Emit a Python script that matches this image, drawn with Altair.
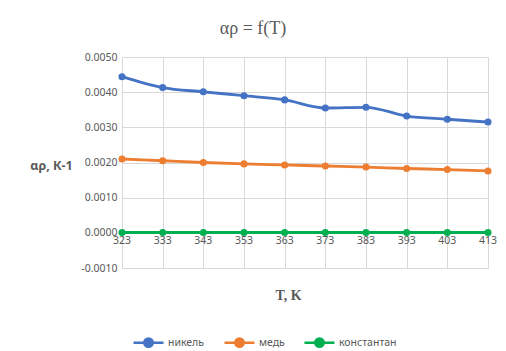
import altair as alt
import pandas as pd

temps = [323, 333, 343, 353, 363, 373, 383, 393, 403, 413]
nickel = [0.00444, 0.00413, 0.00401, 0.00390, 0.00378, 0.00355, 0.00357, 0.00332, 0.00323, 0.00315]
copper = [0.00210, 0.00205, 0.00200, 0.00196, 0.00193, 0.00190, 0.00187, 0.00183, 0.00180, 0.00176]
constantan = [0.00001, 0.00001, 0.00001, 0.00001, 0.00001, 0.00001, 0.00001, 0.00001, 0.00001, 0.00001]
series_names = ["никель", "медь", "константан"]
series_colors = ["#4472C4", "#ED7D31", "#00B050"]
y_ticks = [-0.001, 0.0, 0.001, 0.002, 0.003, 0.004, 0.005]

rows = []
for name, vals in zip(series_names, [nickel, copper, constantan]):
    for t, v in zip(temps, vals):
        rows.append({"T": t, "v": v, "s": name})
df = pd.DataFrame(rows)
ticks_df = pd.DataFrame({"T": temps, "zero": [0.0] * len(temps), "lab": [str(t) for t in temps]})

GRID = "#D9D9D9"
LAB = "#595959"

xs = alt.Scale(domain=[323, 413], nice=False, zero=False)
ys = alt.Scale(domain=[-0.001, 0.005], nice=False)
color = alt.Color(
    "s:N",
    sort=series_names,
    scale=alt.Scale(domain=series_names, range=series_colors),
    legend=alt.Legend(
        title=None, orient="none", direction="horizontal",
        legendX=10, legendY=269,
        symbolType="M-1,0H-0.28A0.28,0.28,0,1,1,0.28,0H1M0.28,0A0.28,0.28,0,1,1,-0.28,0Z",
        symbolSize=900, symbolStrokeWidth=2.5,
        labelFont="Noto Sans", labelFontSize=10.5, labelColor=LAB,
        columnPadding=14, labelOffset=3,
    ),
)

x_enc = alt.X(
    "T:Q", scale=xs,
    axis=alt.Axis(
        values=temps, tickCount=20, labels=False, ticks=False, domain=False,
        grid=True, gridColor=GRID, title="T, K",
        titleFont="Liberation Serif", titleFontSize=14, titleFontWeight="bold",
        titleColor=LAB, titleX=166, titleY=27, titleBaseline="middle", titleAlign="center",
    ),
)
y_enc = alt.Y(
    "v:Q", scale=ys,
    axis=alt.Axis(
        values=y_ticks, tickCount=20,
        labelExpr="replace(format(datum.value, '.4f'), '−', '-')",
        labelOverlap=False,
        ticks=False, domain=False, grid=True, gridColor=GRID,
        labelFont="Noto Sans", labelFontSize=10.5, labelColor=LAB, labelPadding=5,
        title="αρ, К-1", titleAngle=0, titleX=-71, titleY=108,
        titleAlign="center", titleBaseline="middle",
        titleFont="Noto Sans", titleFontSize=12.5, titleFontWeight="bold", titleColor=LAB,
    ),
)

lines = alt.Chart(df).mark_line(
    strokeWidth=2.8, interpolate="monotone",
    point=alt.OverlayMarkDef(filled=True, size=50, opacity=1),
).encode(x=x_enc, y=y_enc, color=color)

labels = alt.Chart(ticks_df).mark_text(
    baseline="top", dy=3, font="Noto Sans", fontSize=10.5, color=LAB
).encode(
    x=alt.X("T:Q", scale=xs), y=alt.Y("zero:Q", scale=ys), text="lab:N"
)

chart = alt.layer(lines, labels).properties(
    width=366, height=211,
    title=alt.TitleParams(
        "αρ = f(T)", font="Liberation Serif", fontSize=18, fontWeight="normal",
        color=LAB, anchor="middle", dx=-52, offset=14,
    ),
    autosize=alt.AutoSizeParams(type="none"),
    padding={"left": 122, "top": 57, "right": 18, "bottom": 83},
).configure_view(stroke=None).configure(background="white")

chart.save("out.html", embed_options={"renderer": "svg", "actions": False})
